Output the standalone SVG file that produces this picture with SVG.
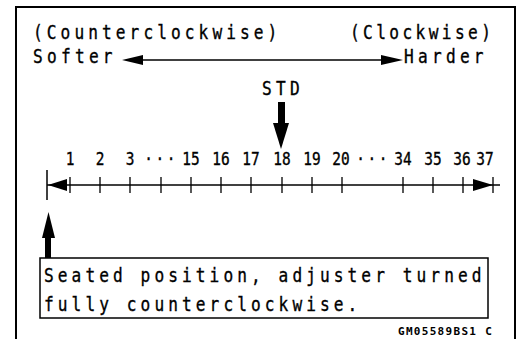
<svg xmlns="http://www.w3.org/2000/svg" width="520" height="339" viewBox="0 0 520 339">
<style>
.t{font-family:"DejaVu Sans Mono","Liberation Mono",monospace;font-size:19px;fill:#000;stroke:#000;stroke-width:0.35;letter-spacing:4.8px}
.n{font-family:"DejaVu Sans Mono","Liberation Mono",monospace;font-size:17px;fill:#000;stroke:#000;stroke-width:0.35;text-anchor:middle}
.s{font-family:"DejaVu Sans Mono","Liberation Mono",monospace;font-size:11px;font-weight:bold;fill:#000;letter-spacing:1.3px}
.ln{stroke:#000;stroke-width:1.5;fill:none}
.tk{stroke:#000;stroke-width:1.3;fill:none}
</style>
<rect width="520" height="339" fill="#fff"/>
<path d="M16,339 V7 H515 V339" fill="none" stroke="#000" stroke-width="2"/>
<g id="labels">
<text class="t" transform="translate(33,39) scale(0.85,1)">(Counterclockwise)</text>
<text class="t" transform="translate(350,39) scale(0.85,1)" style="letter-spacing:4px">(Clockwise)</text>
</g>
<g id="softer"><text class="t" transform="translate(33,63) scale(0.85,1)" style="letter-spacing:5px">Softer</text></g>
<g id="harder"><text class="t" transform="translate(404,63) scale(0.85,1)" style="letter-spacing:5px">Harder</text></g>
<g id="std"><text class="t" transform="translate(262,95) scale(0.85,1)" style="letter-spacing:5px">STD</text></g>
<g id="numbers">
<text class="n" transform="translate(70,165) scale(0.85,1)">1</text>
<text class="n" transform="translate(100,165) scale(0.85,1)">2</text>
<text class="n" transform="translate(130,165) scale(0.85,1)">3</text>
<text class="n" transform="translate(161,165) scale(0.85,1)" style="letter-spacing:3px">···</text>
<text class="n" transform="translate(191,165) scale(0.85,1)">15</text>
<text class="n" transform="translate(221,165) scale(0.85,1)">16</text>
<text class="n" transform="translate(251,165) scale(0.85,1)">17</text>
<text class="n" transform="translate(282,165) scale(0.85,1)">18</text>
<text class="n" transform="translate(312,165) scale(0.85,1)">19</text>
<text class="n" transform="translate(341,165) scale(0.85,1)">20</text>
<text class="n" transform="translate(373,165) scale(0.85,1)" style="letter-spacing:3px">···</text>
<text class="n" transform="translate(403,165) scale(0.85,1)">34</text>
<text class="n" transform="translate(433,165) scale(0.85,1)">35</text>
<text class="n" transform="translate(462,165) scale(0.85,1)">36</text>
<text class="n" transform="translate(485,165) scale(0.85,1)">37</text>
</g>
<g id="note">
<rect x="40" y="258" width="448" height="60" fill="#fff" stroke="#000" stroke-width="1.5"/>
<text class="t" transform="translate(44,282) scale(0.85,1)">Seated position, adjuster turned</text>
<text class="t" transform="translate(44,311) scale(0.85,1)">fully counterclockwise.</text>
</g>
<g id="code"><text class="s" x="398" y="335">GM05589BS1 C</text></g>
<g id="connectors">
<line class="ln" x1="140" y1="60" x2="384" y2="60"/>
<polygon points="122,60 143,55 143,65"/>
<polygon points="403,60 381,55 381,65"/>
<rect x="278" y="102" width="7" height="22"/>
<polygon points="273,123 289,123 281,149"/>
<line class="ln" x1="47" y1="185" x2="500" y2="185"/>
<line class="ln" x1="47" y1="170" x2="47" y2="200"/>
<polygon points="48,185 67,179 67,191"/>
<polygon points="493,185 473,179 473,191"/>
<path class="tk" d="M70,177V193M100,177V193M130,177V193M161,177V193M191,177V193M221,177V193M251,177V193M282,177V193M312,177V193M342,177V193M403,177V193M433,177V193M463,177V193M493,177V193"/>
<rect x="45" y="236" width="6" height="22"/>
<polygon points="42,238 55,238 48.5,212"/>
</g>
</svg>
